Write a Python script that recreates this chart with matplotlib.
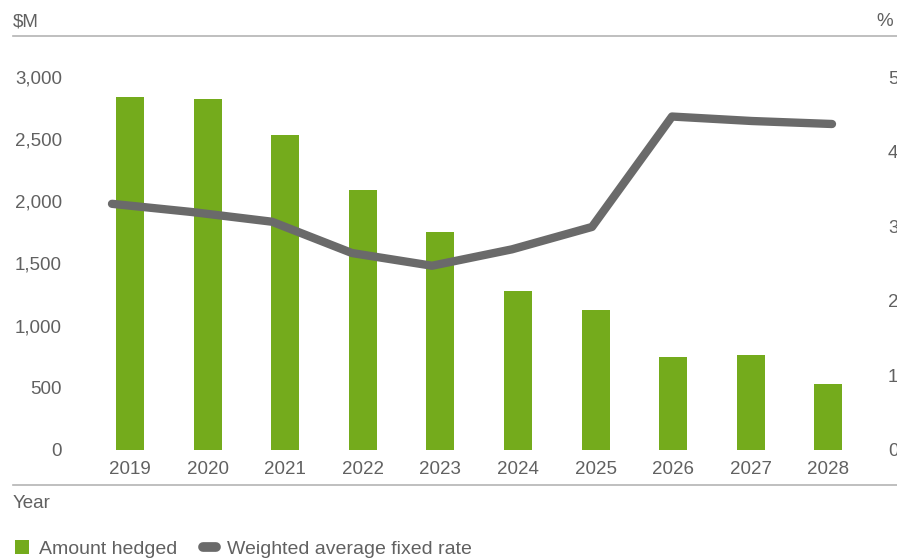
import matplotlib
matplotlib.use("Agg")
import matplotlib.pyplot as plt
from matplotlib.patches import Patch
from matplotlib.lines import Line2D
import numpy as np

plt.rcParams['font.family'] = ['Liberation Sans', 'DejaVu Sans']

years = ["2019", "2020", "2021", "2022", "2023", "2024", "2025", "2026", "2027", "2028"]
amount_hedged = [2837, 2823, 2533, 2091, 1756, 1279, 1126, 750, 767, 531]   # $M
fixed_rate = [3.30, 3.19, 3.06, 2.64, 2.47, 2.69, 2.99, 4.47, 4.41, 4.37]  # %
left_ticks = [0, 500, 1000, 1500, 2000, 2500, 3000]
right_ticks = [0, 1, 2, 3, 4, 5]

GREEN = "#74ab1c"
GREY_LINE = "#6a6a6a"
TEXT = "#616161"
RULE = "#b4b4b4"

W, H = 897, 560
fig = plt.figure(figsize=(W / 100, H / 100), dpi=100)

# axes box in pixel terms
x0, x1 = 91.2, 867.2
y_top, y_bot = 77, 450
pos = [x0 / W, (H - y_bot) / H, (x1 - x0) / W, (y_bot - y_top) / H]

ax = fig.add_axes(pos)
idx = np.arange(len(years))
ax.bar(idx, amount_hedged, width=0.36, color=GREEN, zorder=2)
ax.set_xlim(-0.5, len(years) - 0.5)
ax.set_ylim(0, 3000)
ax.set_yticks(left_ticks)
ax.set_yticklabels([f"{v:,}" for v in left_ticks])
ax.set_xticks(idx)
ax.set_xticklabels(years)
for s in ax.spines.values():
    s.set_visible(False)
ax.tick_params(axis="both", length=0, labelsize=13.5, labelcolor=TEXT)
ax.tick_params(axis="y", pad=21)
ax.tick_params(axis="x", pad=8)

# rate line on its own overlay axes (slightly wider spread than the bars)
axr = fig.add_axes(pos, frameon=False)
axr.plot(idx, fixed_rate, color=GREY_LINE, lw=6, solid_capstyle="round",
         solid_joinstyle="round", zorder=3)
axr.set_xlim(-0.26, 9.44)
axr.set_ylim(0, 5)
axr.set_xticks([])
axr.yaxis.tick_right()
axr.set_yticks(right_ticks)
axr.set_yticklabels([str(v) for v in right_ticks])
axr.tick_params(axis="y", length=0, labelsize=13.5, labelcolor=TEXT, pad=15)

# header and footer rules
fig.add_artist(Line2D([13 / W, 1], [(H - 36) / H] * 2, color=RULE, lw=1.2))
fig.add_artist(Line2D([13 / W, 1], [(H - 485) / H] * 2, color=RULE, lw=1.2))
fig.text(13 / W, (H - 22) / H, "$M", fontsize=13.5, color=TEXT, va="center", ha="left")
fig.text(893 / W, (H - 22) / H, "%", fontsize=13.5, color=TEXT, va="center", ha="right")
fig.text(13 / W, (H - 503) / H, "Year", fontsize=13.5, color=TEXT, va="center", ha="left")

handles = [Patch(facecolor=GREEN, edgecolor="none"),
           Line2D([0], [0], color=GREY_LINE, lw=7, solid_capstyle="round")]
fig.legend(handles, ["Amount hedged", "Weighted average fixed rate"],
           loc="center left", bbox_to_anchor=(15 / W, (H - 549) / H), ncol=2,
           frameon=False, fontsize=14, labelcolor=TEXT,
           handlelength=0.7, handleheight=0.75, handletextpad=0.55,
           columnspacing=1.3, borderaxespad=0, borderpad=0)

fig.savefig("out.png", dpi=100, facecolor="white")
